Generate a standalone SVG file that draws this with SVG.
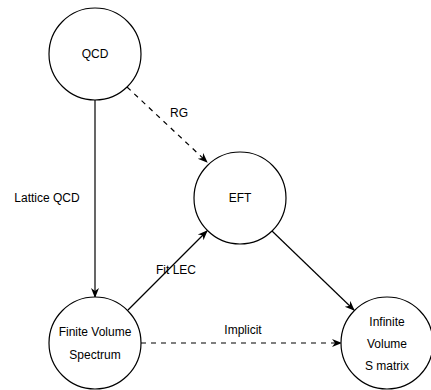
<svg xmlns="http://www.w3.org/2000/svg" width="431" height="390" viewBox="0 0 431 390">
<style>
.n{fill:#fff;stroke:#000;stroke-width:1.2}
.t{font-family:"Liberation Sans",Arial,sans-serif;font-size:12px;fill:#000;text-anchor:middle;dominant-baseline:central}
.e{stroke:#000;stroke-width:1.2;fill:none;marker-end:url(#a)}
.d{stroke-dasharray:5 5}
</style>
<defs>
<marker id="a" viewBox="0 0 10 10" refX="9" refY="5" markerWidth="10" markerHeight="10" markerUnits="userSpaceOnUse" orient="auto">
<path d="M0,1 L10,5 L0,9 L3,5 Z" fill="#000"/>
</marker>
</defs>
<rect width="431" height="390" fill="#fff"/>
<g id="edges">
<line class="e" x1="95" y1="100" x2="95" y2="297"/>
<line class="e d" x1="127" y1="87" x2="207" y2="162"/>
<line class="e" x1="128" y1="310" x2="207" y2="231"/>
<line class="e" x1="272" y1="231" x2="354" y2="310"/>
<line class="e d" x1="141" y1="343" x2="341" y2="343"/>
<text class="t" x="47" y="198">Lattice QCD</text>
<text class="t" x="179" y="113">RG</text>
<text class="t" x="176" y="270">Fit LEC</text>
<text class="t" x="243" y="330">Implicit</text>
</g>
<g id="qcd"><circle class="n" cx="95" cy="54" r="46"/><text class="t" x="95" y="54">QCD</text></g>
<g id="eft"><circle class="n" cx="240" cy="198" r="46"/><text class="t" x="240" y="198">EFT</text></g>
<g id="fvs"><circle class="n" cx="95" cy="343" r="46"/><text class="t" x="95" y="332">Finite Volume</text><text class="t" x="95" y="355">Spectrum</text></g>
<g id="ivs"><circle class="n" cx="387" cy="343" r="46"/><text class="t" x="387" y="322">Infinite</text><text class="t" x="387" y="344">Volume</text><text class="t" x="387" y="366">S matrix</text></g>
</svg>
